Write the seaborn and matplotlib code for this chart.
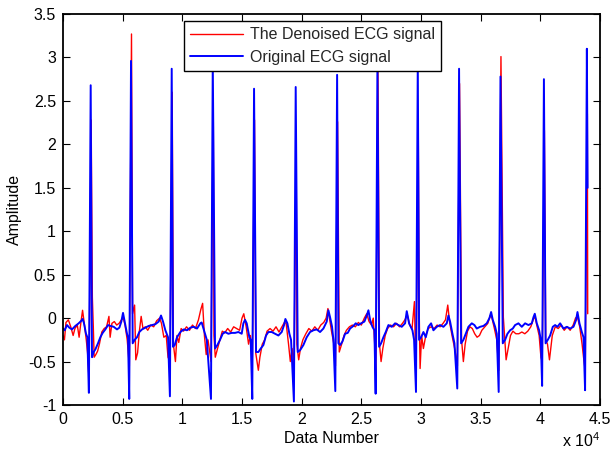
import numpy as np
import pandas as pd
import matplotlib
matplotlib.use("Agg")
import matplotlib.pyplot as plt
import seaborn as sns

# ---------------- data ----------------
beat_pos = [2320, 5700, 9110, 12550, 16010, 19500, 22970, 26350, 29730, 33190, 36660, 40300, 43900]
blue_peak = [2.68, 2.96, 2.87, 2.95, 2.64, 2.66, 2.80, 2.95, 2.95, 2.87, 2.78, 2.75, 3.10]
blue_trough = [-0.86, -0.93, -0.90, -0.93, -0.93, -0.96, -0.84, -0.87, -0.85, -0.81, -0.85, -0.78, -0.83]
red_peak = [2.28, 3.27, 2.60, 2.55, 2.28, 1.91, 2.26, 2.95, 2.19, 2.70, 3.01, 2.16, 2.35]
red_trough = [-0.70, -0.55, -0.50, -0.50, -0.45, -0.55, -0.55, -0.71, -0.58, -0.55, -0.60, -0.50, -0.60]

blue_base_x = [
    0, 140, 335, 530, 755, 1034, 1313, 1537, 1648, 1760, 1928, 2040,
    2430, 2570, 2710, 2934, 3129, 3325, 3548, 3772, 3967, 4247, 4526, 4722, 4889, 5029, 5169, 5364, 5448,
    5839, 6007, 6203, 6398, 6622, 6901, 7180, 7460, 7739, 8019, 8214, 8382, 8577, 8801,
    9220, 9360, 9555, 9835, 10114, 10394, 10673, 10952, 11232, 11511, 11620, 11900, 12050,
    12740, 12936, 13159, 13383, 13579, 13858, 14137, 14417, 14696, 14976, 15115, 15255, 15395, 15618, 15730,
    16177, 16373, 16568, 16792, 17015, 17211, 17490, 17770, 18049, 18328, 18524, 18636, 18803, 18971, 19111,
    19669, 19865, 20144, 20424, 20703, 20983, 21262, 21541, 21821, 22100, 22240, 22380, 22547, 22659,
    23078, 23218, 23414, 23637, 23861, 24056, 24336, 24531, 24755, 24978, 25258, 25453, 25593, 25733, 25928, 26096,
    26487, 26655, 26850, 27046, 27269, 27549, 27828, 28108, 28387, 28666, 28806, 29002, 29281, 29421,
    29840, 30008, 30203, 30399, 30622, 30846, 31041, 31321, 31600, 31880, 32159, 32299, 32438, 32634, 32802,
    33360, 33556, 33751, 33975, 34255, 34478, 34674, 34953, 35233, 35512, 35736, 35875, 36015, 36211, 36350,
    36853, 37049, 37244, 37468, 37691, 37887, 38166, 38446, 38725, 39005, 39284, 39424, 39535, 39703, 39899, 40038,
    40440, 40625, 40821, 41044, 41240, 41435, 41659, 41938, 42218, 42497, 42777, 43000, 43112, 43279, 43475, 43615,
    43960,
]
blue_base_y = [
    -0.12, -0.14, -0.08, -0.11, -0.13, -0.09, -0.06, -0.03, -0.01, -0.06, -0.18, -0.22,
    -0.45, -0.39, -0.36, -0.29, -0.22, -0.17, -0.13, -0.08, -0.09, -0.10, -0.13, -0.11, -0.04, 0.06, -0.04, -0.18, -0.22,
    -0.29, -0.25, -0.22, -0.16, -0.13, -0.11, -0.09, -0.08, -0.07, -0.04, 0.03, -0.04, -0.14, -0.22,
    -0.33, -0.31, -0.22, -0.16, -0.13, -0.14, -0.11, -0.10, -0.12, -0.06, -0.05, -0.18, -0.25,
    -0.35, -0.31, -0.25, -0.18, -0.16, -0.18, -0.17, -0.17, -0.16, -0.18, -0.06, -0.02, -0.06, -0.22, -0.25,
    -0.39, -0.39, -0.35, -0.31, -0.20, -0.16, -0.16, -0.18, -0.20, -0.16, -0.08, -0.01, -0.06, -0.18, -0.25,
    -0.39, -0.37, -0.31, -0.22, -0.16, -0.14, -0.13, -0.16, -0.12, -0.04, 0.09, 0.01, -0.10, -0.25,
    -0.29, -0.31, -0.27, -0.18, -0.17, -0.12, -0.09, -0.06, -0.08, -0.06, -0.04, 0.03, 0.09, -0.02, -0.10, -0.14,
    -0.33, -0.29, -0.22, -0.16, -0.08, -0.10, -0.06, -0.08, -0.10, -0.06, 0.08, -0.06, -0.14, -0.25,
    -0.25, -0.22, -0.16, -0.22, -0.10, -0.06, -0.14, -0.10, -0.08, -0.10, -0.06, 0.03, -0.04, -0.18, -0.29,
    -0.29, -0.25, -0.18, -0.10, -0.06, -0.08, -0.12, -0.10, -0.09, -0.06, 0.00, 0.07, -0.02, -0.10, -0.18,
    -0.29, -0.25, -0.18, -0.14, -0.12, -0.08, -0.06, -0.10, -0.06, -0.08, -0.06, 0.01, 0.05, -0.06, -0.14, -0.25,
    -0.29, -0.25, -0.20, -0.10, -0.08, -0.10, -0.06, -0.12, -0.10, -0.12, -0.10, -0.02, 0.07, -0.06, -0.16, -0.22,
    1.50,
]

red_base_x = [
    0, 120, 250, 450, 650, 850, 1000, 1200, 1350, 1500, 1640, 1800, 1950, 2060,
    2460, 2540, 2610, 2750, 2900, 3050, 3250, 3450, 3650, 3850, 3950, 4100, 4300, 4500, 4700, 4900, 5050, 5200, 5380,
    5830, 6000, 6100, 6250, 6400, 6550, 6700, 6900, 7100, 7350, 7600, 7850, 8100, 8250, 8450, 8650, 8800,
    9250, 9420, 9550, 9700, 9900, 10100, 10350, 10600, 10850, 11100, 11350, 11550, 11700, 11850, 12000, 12150,
    12650, 12760, 12950, 13150, 13350, 13550, 13800, 14050, 14300, 14550, 14800, 15000, 15150, 15350, 15550, 15700,
    16150, 16370, 16500, 16700, 16900, 17100, 17350, 17600, 17850, 18100, 18350, 18550, 18700, 18900, 19050, 19200,
    19600, 19750, 19900, 20100, 20350, 20600, 20850, 21100, 21350, 21600, 21850, 22050, 22200, 22350, 22500, 22700,
    23150, 23350, 23550, 23750, 24000, 24250, 24500, 24750, 25000, 25250, 25450, 25650, 25850, 26000, 26120,
    26520, 26655, 26800, 27000, 27200, 27450, 27700, 27950, 28200, 28450, 28650, 28850, 29050, 29250, 29450, 29520,
    29850, 29924, 30050, 30200, 30400, 30600, 30850, 31100, 31350, 31600, 31850, 32050, 32243, 32400, 32600, 32850,
    33400, 33550, 33700, 33900, 34100, 34300, 34500, 34700, 34900, 35100, 35350, 35600, 35800, 35950, 36150, 36350,
    36900, 37133, 37300, 37500, 37700, 37950, 38200, 38450, 38700, 38950, 39200, 39400, 39550, 39700, 39900, 40050,
    40450, 40600, 40765, 41000, 41250, 41500, 41750, 42000, 42250, 42500, 42750, 42950, 43100, 43300, 43500, 43620,
    43970,
]
red_base_y = [
    -0.20, -0.25, -0.05, -0.02, -0.10, -0.20, -0.12, -0.08, -0.22, -0.05, 0.09, -0.08, -0.25, -0.40,
    0.24, -0.10, -0.45, -0.42, -0.38, -0.30, -0.16, -0.12, -0.10, 0.02, -0.22, -0.06, -0.04, -0.08, -0.06, -0.02, 0.00, -0.08, -0.25,
    0.05, 0.15, -0.48, -0.40, -0.15, 0.02, -0.12, -0.10, -0.14, -0.08, -0.10, -0.03, 0.00, -0.06, -0.22, -0.20, -0.45,
    -0.30, -0.50, -0.20, -0.28, -0.12, -0.15, -0.10, -0.14, -0.08, -0.12, -0.02, 0.10, 0.17, -0.20, -0.42, -0.25,
    -0.20, -0.45, -0.35, -0.25, -0.15, -0.17, -0.12, -0.16, -0.10, -0.12, -0.14, 0.00, 0.05, -0.10, -0.30, -0.20,
    -0.40, -0.60, -0.45, -0.30, -0.25, -0.15, -0.12, -0.15, -0.10, -0.16, -0.10, -0.05, -0.06, -0.30, -0.50, -0.35,
    -0.30, -0.48, -0.35, -0.25, -0.18, -0.12, -0.15, -0.10, -0.14, -0.08, -0.05, 0.00, 0.11, -0.02, -0.15, -0.30,
    -0.39, -0.30, -0.20, -0.14, -0.10, -0.08, -0.10, -0.05, -0.08, 0.00, 0.05, -0.04, -0.08, 0.00, -0.30,
    -0.30, -0.50, -0.35, -0.20, -0.12, -0.08, -0.10, -0.06, -0.10, -0.06, -0.02, 0.04, -0.08, -0.12, 0.19, -0.30,
    0.07, -0.58, -0.20, -0.35, -0.20, -0.12, -0.10, -0.12, -0.08, -0.10, -0.06, -0.02, 0.15, -0.05, -0.20, -0.37,
    -0.25, -0.50, -0.30, -0.15, -0.10, -0.12, -0.18, -0.22, -0.20, -0.14, -0.10, -0.06, 0.03, 0.00, -0.12, -0.25,
    0.01, -0.48, -0.35, -0.20, -0.15, -0.18, -0.18, -0.16, -0.18, -0.15, -0.10, -0.02, 0.02, -0.08, -0.20, -0.45,
    -0.25, -0.30, -0.48, -0.20, -0.10, -0.12, -0.08, -0.14, -0.10, -0.14, -0.08, 0.00, 0.02, -0.10, -0.30, -0.45,
    0.05,
]

xtick_vals = [0, 5000, 10000, 15000, 20000, 25000, 30000, 35000, 40000, 45000]
xtick_labels = ["0", "0.5", "1", "1.5", "2", "2.5", "3", "3.5", "4", "4.5"]
ytick_vals = [-1, -0.5, 0, 0.5, 1, 1.5, 2, 2.5, 3, 3.5]
ytick_labels = ["-1", "-0.5", "0", "0.5", "1", "1.5", "2", "2.5", "3", "3.5"]
series_labels = ["The Denoised ECG signal", "Original ECG signal"]


def build(bx, by, pos, peak, trough, q_off, r_off):
    x = list(bx) + [p - q_off for p in pos] + [p + r_off for p in pos]
    y = list(by) + list(trough) + list(peak)
    order = np.argsort(np.array(x), kind="stable")
    return np.array(x, dtype=float)[order], np.array(y, dtype=float)[order]


bx, by = build(blue_base_x, blue_base_y, beat_pos, blue_peak, blue_trough, 150, 0)
rx, ry = build(red_base_x, red_base_y, beat_pos, red_peak, red_trough, 140, 40)
red_df = pd.DataFrame({"x": rx, "y": ry})
blue_df = pd.DataFrame({"x": bx, "y": by})

# ---------------- style ----------------
sns.set_theme(style="ticks")
plt.rcParams["font.family"] = ["Liberation Sans", "DejaVu Sans"]
plt.rcParams["mathtext.fontset"] = "custom"
plt.rcParams["mathtext.rm"] = "Liberation Sans"
plt.rcParams["axes.edgecolor"] = "black"
plt.rcParams["axes.linewidth"] = 1.3

fig = plt.figure(figsize=(6.11, 4.5), dpi=100)
ax = fig.add_axes([63 / 611, 45 / 450, 537 / 611, 391 / 450])

sns.lineplot(data=red_df, x="x", y="y", ax=ax, color="#ff0000", linewidth=1.0,
             estimator=None, sort=False, label=series_labels[0])
sns.lineplot(data=blue_df, x="x", y="y", ax=ax, color="#0000ff", linewidth=1.4,
             estimator=None, sort=False, label=series_labels[1])

ax.set_xlim(0, 45000)
ax.set_ylim(-1, 3.5)
ax.set_xticks(xtick_vals)
ax.set_xticklabels(xtick_labels)
ax.set_yticks(ytick_vals)
ax.set_yticklabels(ytick_labels)
ax.tick_params(direction="in", top=True, right=True, length=5, width=0.8,
               labelsize=11.5, colors="black", pad=5)
for s in ax.spines.values():
    s.set_visible(True)
    s.set_color("black")
ax.set_xlabel("Data Number", fontsize=11.5, color="black", labelpad=3)
ax.set_ylabel("Amplitude", fontsize=11.5, color="black", labelpad=5)
ax.text(0.93, -0.107, "x 10$^{4}$", transform=ax.transAxes, fontsize=11.5,
        ha="left", va="baseline", color="black")

leg = ax.legend(loc="upper left", bbox_to_anchor=(0.225, 0.982), fontsize=11.5,
                frameon=True, fancybox=False, framealpha=1, edgecolor="black",
                handlelength=3.3, handletextpad=0.45, labelspacing=0.45,
                borderpad=0.4, borderaxespad=0)
leg.get_frame().set_linewidth(1.0)
leg.set_zorder(5)

fig.savefig("out.png", dpi=100, facecolor="white")
